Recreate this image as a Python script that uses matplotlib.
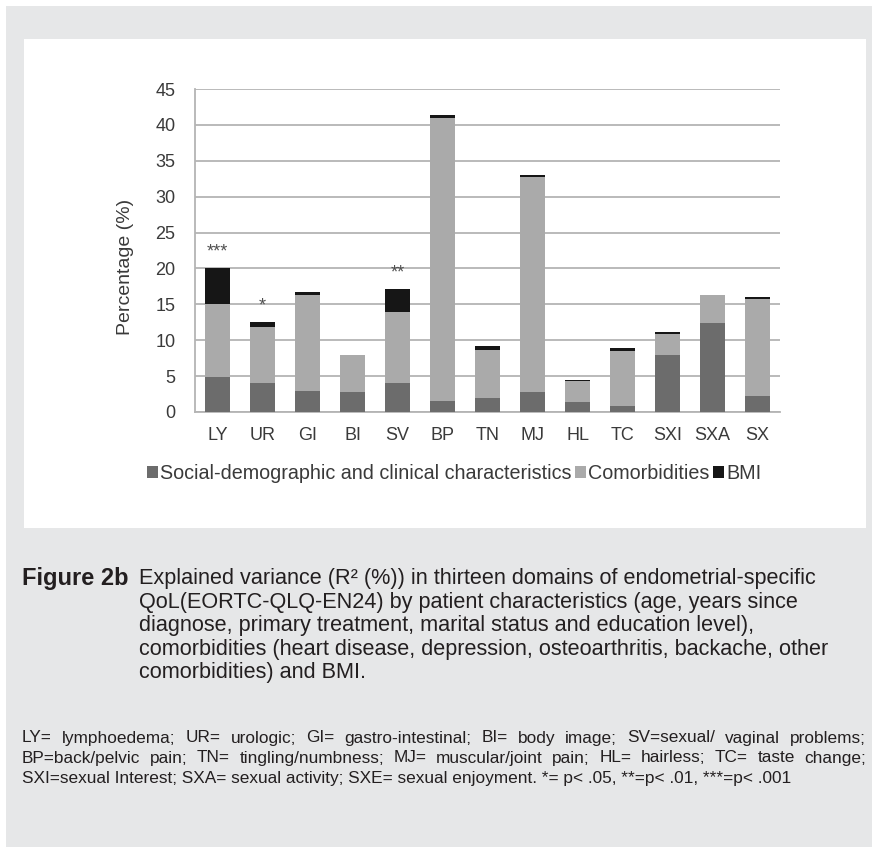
import numpy as np
import matplotlib
matplotlib.use("Agg")
import matplotlib.pyplot as plt
from matplotlib.patches import Rectangle

# ---------------- data ----------------
domains = ["LY", "UR", "GI", "BI", "SV", "BP", "TN", "MJ", "HL", "TC", "SXI", "SXA", "SX"]
social = [4.9, 4.1, 2.9, 2.8, 4.1, 1.5, 1.9, 2.8, 1.4, 0.8, 8.0, 12.4, 2.2]
comorb = [10.1, 7.8, 13.4, 5.1, 9.9, 39.5, 6.7, 29.9, 2.9, 7.7, 2.8, 3.9, 13.5]
bmi = [5.1, 0.6, 0.4, 0.0, 3.2, 0.4, 0.6, 0.3, 0.1, 0.4, 0.3, 0.0, 0.3]
stars = ["***", "*", "", "", "**", "", "", "", "", "", "", "", ""]
series_names = ["Social-demographic and clinical characteristics", "Comorbidities", "BMI"]

caption_lines = [
    "Explained variance (R² (%)) in thirteen domains of endometrial-specific",
    "QoL(EORTC-QLQ-EN24) by patient characteristics (age, years since",
    "diagnose, primary treatment, marital status and education level),",
    "comorbidities (heart disease, depression, osteoarthritis, backache, other",
    "comorbidities) and BMI.",
]
foot_lines = [
    "LY= lymphoedema; UR= urologic; GI= gastro-intestinal; BI= body image; SV=sexual/ vaginal problems;",
    "BP=back/pelvic pain; TN= tingling/numbness; MJ= muscular/joint pain; HL= hairless; TC= taste change;",
    "SXI=sexual Interest; SXA= sexual activity; SXE= sexual enjoyment. *= p< .05, **=p< .01, ***=p< .001",
]

W, H = 872, 852
plt.rcParams['font.family'] = ['Liberation Sans', 'DejaVu Sans']

def px(x, y):
    return x / W, 1 - y / H

fig = plt.figure(figsize=(W / 100, H / 100), dpi=100)
fig.patch.set_facecolor("white")
# grey page + white panel
fig.patches.append(Rectangle(px(6, 847), (W - 6) / W, (847 - 6) / H, transform=fig.transFigure,
                             facecolor="#e6e7e8", edgecolor="none", zorder=-2))
fig.patches.append(Rectangle(px(24, 528), (866 - 24) / W, (528 - 39) / H, transform=fig.transFigure,
                             facecolor="white", edgecolor="none", zorder=-1))

ax = fig.add_axes([195 / W, 1 - 412 / H, (780 - 195) / W, (412 - 89) / H])
ax.set_facecolor("none")

x = np.arange(len(domains))
social = np.array(social)
comorb = np.array(comorb)
bmi = np.array(bmi)
c_soc, c_com, c_bmi = "#6c6c6c", "#aaaaaa", "#161616"
b1 = ax.bar(x, social, width=0.56, color=c_soc, zorder=3)
b2 = ax.bar(x, comorb, width=0.56, bottom=social, color=c_com, zorder=3)
b3 = ax.bar(x, bmi, width=0.56, bottom=social + comorb, color=c_bmi, zorder=3)

total = social + comorb + bmi
for i, s in enumerate(stars):
    if s:
        ax.text(x[i], total[i] + 1.6, s, ha="center", va="baseline", fontsize=13, color="#505050")

ax.set_xlim(-0.5, len(domains) - 0.5)
ax.set_ylim(0, 45)
ax.set_yticks(np.arange(0, 46, 5))
ax.set_xticks(x)
ax.set_xticklabels(domains)
ax.tick_params(axis="both", length=0, labelsize=13, colors="#3a3a3a")
ax.tick_params(axis="y", pad=14)
ax.tick_params(axis="x", pad=11)
ax.grid(axis="y", color="#b4b4b4", linewidth=1.3, zorder=0)
for sp in ["top", "right"]:
    ax.spines[sp].set_visible(False)
for sp in ["left", "bottom"]:
    ax.spines[sp].set_color("#b4b4b4")
    ax.spines[sp].set_linewidth(1.3)
ax.set_ylabel("Percentage (%)", fontsize=14, color="#3a3a3a")
ax.yaxis.set_label_coords(-0.104, 0.449)

ax.legend([b1, b2, b3], series_names, ncol=3, loc="center", bbox_to_anchor=(0.443, -0.19),
          frameon=False, fontsize=14.2, handlelength=0.55, handleheight=0.55, handletextpad=0.1,
          columnspacing=0.2, labelcolor="#3a3a3a")

# caption: one block so the lines keep a fixed spacing
txt_col = "#231f20"
fig.text(*px(22, 579), "Figure 2b", fontsize=17, fontweight="bold",
         color=txt_col, va="center", ha="left")
fig.text(*px(139, 568), "\n".join(caption_lines), fontsize=15.6, linespacing=1.16,
         color=txt_col, va="top", ha="left")

# footnote, first two lines justified
renderer = fig.canvas.get_renderer()
for i, line in enumerate(foot_lines):
    y = 738 + 20 * i
    if i < 2:
        words = line.split(" ")
        ts = [fig.text(0, 0, w_, fontsize=12.4, color=txt_col,
                       va="center", ha="left") for w_ in words]
        widths = [t.get_window_extent(renderer).width for t in ts]
        gap = max((866 - 22 - sum(widths)) / (len(words) - 1), 3)
        xx = 22
        for t, w_ in zip(ts, widths):
            t.set_position(px(xx, y))
            xx += w_ + gap
    else:
        fig.text(*px(22, y), line, fontsize=12.4, color=txt_col,
                 va="center", ha="left")

fig.savefig("out.png", dpi=100)
